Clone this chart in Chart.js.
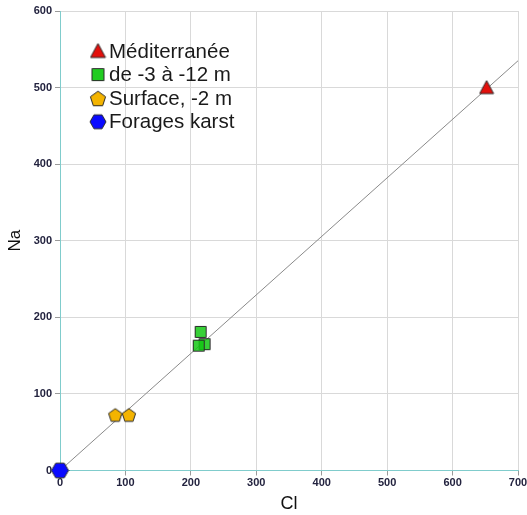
<!DOCTYPE html>
<html>
<head>
  <style>
    body { margin: 0; background: #fff; }
    #chart-box { width: 527px; height: 515px; }
  </style>
  <script src="https://cdn.jsdelivr.net/npm/chart.js"></script>
</head>
<body>
  <div id="chart-box">
    <canvas id="naClChart" width="527" height="515"></canvas>
  </div>

  <script>
    // values (Cl on x, Na on y)
    const seriesNames = ['Méditerranée', 'de -3 à -12 m', 'Surface, -2 m', 'Forages karst'];
    const clMed = [652];
    const naMed = [500];
    const clDeep = [221, 212, 215];
    const naDeep = [165, 163, 181];
    const clSurf = [84.5, 105.3];
    const naSurf = [73, 73];
    const clKarst = [0];
    const naKarst = [0];
    // mixing line, origin to past the sea water point
    const lineCl = [0, 700];
    const lineNa = [0, 535];
    const xTicks = [0, 100, 200, 300, 400, 500, 600, 700];
    const yTicks = [0, 100, 200, 300, 400, 500, 600];

    const pts = (xs, ys) => xs.map((x, i) => ({ x: x, y: ys[i] }));

    // draw one marker shape into a small canvas, used as pointStyle
    function marker(kind, size, fill) {
      const s = size + 2;
      const c = document.createElement('canvas');
      c.width = s; c.height = s;
      const g = c.getContext('2d');
      const cx = s / 2, cy = s / 2, r = size / 2;
      g.beginPath();
      if (kind === 'triangle') {
        g.moveTo(cx, 1);
        g.lineTo(s - 1, s - 2);
        g.lineTo(1, s - 2);
      } else if (kind === 'square') {
        g.rect(1.5, 1.5, size - 1, size - 1);
      } else if (kind === 'pentagon') {
        for (let k = 0; k < 5; k++) {
          const a = -Math.PI / 2 + k * 2 * Math.PI / 5;
          g.lineTo(cx + r * Math.cos(a), cy + 1 + r * Math.sin(a));
        }
      } else {
        for (let k = 0; k < 6; k++) {
          const a = k * Math.PI / 3;
          g.lineTo(cx + r * Math.cos(a), cy + r * Math.sin(a));
        }
      }
      g.closePath();
      g.fillStyle = fill;
      g.fill();
      g.lineWidth = 1;
      g.strokeStyle = '#2a2a2a';
      g.stroke();
      return c;
    }

    const medMark = marker('triangle', 14, '#e3100c');
    const deepMark = marker('square', 12, 'rgba(20, 200, 20, 0.85)');
    const surfMark = marker('pentagon', 14, '#f4b400');
    const karstMark = marker('hexagon', 17, '#0a0aff');
    const legendMarks = [
      marker('triangle', 15, '#e3100c'),
      marker('square', 13, '#22cc22'),
      marker('pentagon', 16, '#f4b400'),
      marker('hexagon', 16, '#0a0aff')
    ];

    // legend drawn inside the plot, top left
    const insideLegend = {
      id: 'insideLegend',
      afterDraw(chart) {
        const g = chart.ctx;
        g.save();
        g.font = '20.5px "Liberation Sans", Arial, sans-serif';
        g.fillStyle = '#1a1a1a';
        g.textBaseline = 'middle';
        seriesNames.forEach((name, i) => {
          const y = 51 + i * 23.6;
          const m = legendMarks[i];
          g.drawImage(m, 98 - m.width / 2, y - m.height / 2);
          g.fillText(name, 109, y + 1);
        });
        g.restore();
      }
    };

    const tickFont = { family: '"Liberation Sans", Arial, sans-serif', size: 11, weight: 'bold' };
    const gridOpts = { color: '#d9d9d9', tickColor: '#9a9a9a', tickLength: 5 };
    const borderOpts = { color: '#80cccc', width: 1 };

    const ctx = document.getElementById('naClChart').getContext('2d');
    new Chart(ctx, {
      type: 'scatter',
      data: {
        datasets: [
          { label: seriesNames[0], data: pts(clMed, naMed), pointStyle: medMark, pointRadius: 7, clip: false },
          { label: seriesNames[1], data: pts(clDeep, naDeep), pointStyle: deepMark, pointRadius: 6, clip: false },
          { label: seriesNames[2], data: pts(clSurf, naSurf), pointStyle: surfMark, pointRadius: 7, clip: false },
          { label: seriesNames[3], data: pts(clKarst, naKarst), pointStyle: karstMark, pointRadius: 8, clip: false },
          {
            type: 'line',
            label: 'mélange',
            data: pts(lineCl, lineNa),
            borderColor: '#8a8a8a',
            borderWidth: 1,
            pointRadius: 0,
            fill: false
          }
        ]
      },
      options: {
        responsive: false,
        animation: false,
        events: [],
        layout: { padding: { top: 11, right: 8.5, left: 0, bottom: 0 } },
        plugins: {
          legend: { display: false },
          tooltip: { enabled: false }
        },
        scales: {
          x: {
            type: 'linear',
            min: 0,
            max: 700,
            afterBuildTicks: (s) => { s.ticks = xTicks.map(v => ({ value: v })); },
            afterFit: (s) => { s.height = 44.5; s.paddingLeft = 0; s.paddingRight = 0; },
            ticks: { font: tickFont, color: '#23233f', padding: 1 },
            grid: gridOpts,
            border: borderOpts,
            title: {
              display: true,
              text: 'Cl',
              color: '#111',
              font: { family: '"Liberation Sans", Arial, sans-serif', size: 18 },
              padding: 0
            }
          },
          y: {
            type: 'linear',
            min: 0,
            max: 600,
            afterBuildTicks: (s) => { s.ticks = yTicks.map(v => ({ value: v })); },
            afterFit: (s) => { s.width = 60; s.paddingTop = 0; s.paddingBottom = 0; },
            ticks: { font: tickFont, color: '#23233f', padding: 3 },
            grid: gridOpts,
            border: borderOpts,
            title: {
              display: true,
              text: 'Na',
              color: '#111',
              font: { family: '"Liberation Sans", Arial, sans-serif', size: 17 },
              padding: { top: 5, bottom: 0 }
            }
          }
        }
      },
      plugins: [insideLegend]
    });
  </script>
</body>
</html>
